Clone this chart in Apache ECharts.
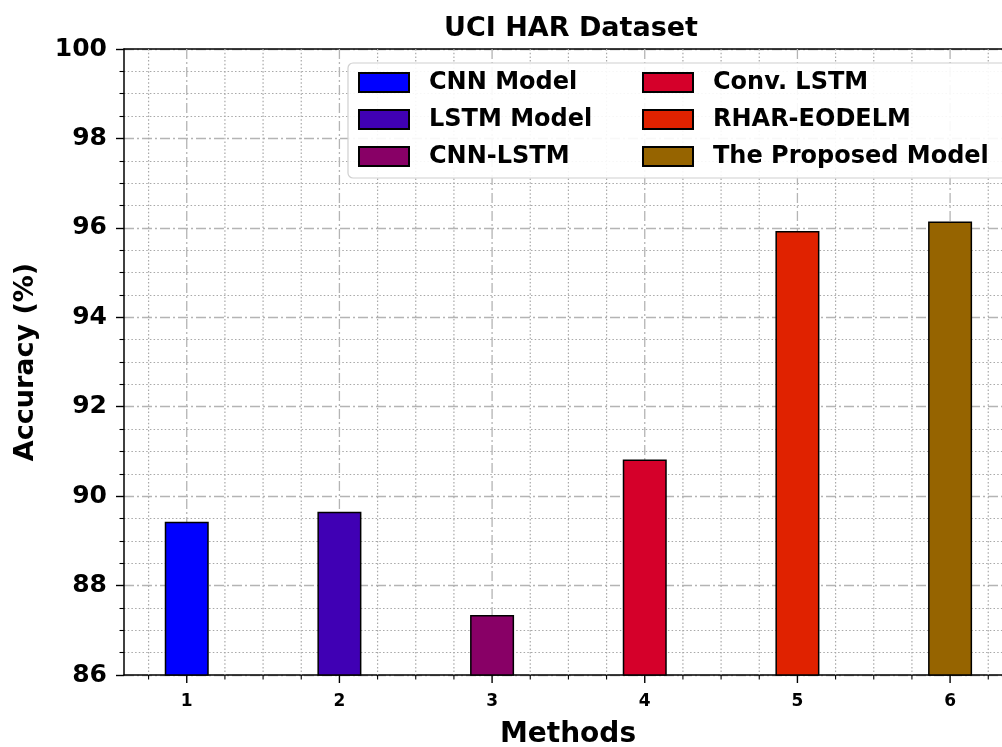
<!DOCTYPE html>
<html>
<head>
<meta charset="utf-8">
<script src="https://cdn.jsdelivr.net/npm/echarts@6/dist/echarts.min.js"></script>
<style>
html,body{margin:0;padding:0;background:#fff;}
#chart{width:1002px;height:747px;}
</style>
</head>
<body>
<div id="chart"></div>
<script>
// ---- data ----
const methods = [1, 2, 3, 4, 5, 6];
const modelNames = ['CNN Model', 'LSTM Model', 'CNN-LSTM', 'Conv. LSTM', 'RHAR-EODELM', 'The Proposed Model'];
const accuracy = [89.43, 89.65, 87.34, 90.82, 95.93, 96.14];
const xMajorTicks = [1, 2, 3, 4, 5, 6];
const xMinorTicks = [0.75, 1.25, 1.5, 1.75, 2.25, 2.5, 2.75, 3.25, 3.5, 3.75, 4.25, 4.5, 4.75, 5.25, 5.5, 5.75, 6.25];

// ---- styles ----
const barColors = ['#0000ff', '#4000b4', '#880066', '#d5002a', '#e02200', '#966400'];
const FONT = 'DejaVu Sans';
const gridMajorDash = [10, 3, 2, 3];
const gridMinorDash = [1.5, 2.2];

const chart = echarts.init(document.getElementById('chart'), null, {renderer: 'canvas'});

const barSeries = modelNames.map((name, i) => ({
  name: name,
  type: 'bar',
  z: 2,
  barWidth: 44,
  barGap: '-100%',
  data: [[methods[i], accuracy[i]]],
  itemStyle: {color: barColors[i], borderColor: '#000', borderWidth: 1.5},
  emphasis: {disabled: true}
}));

const gridData = xMajorTicks.map(v => [v, 1]).concat(xMinorTicks.map(v => [v, 0]));

const gridSeries = {
  type: 'custom',
  z: 1,
  silent: true,
  xAxisIndex: 0,
  yAxisIndex: 0,
  encode: {x: 0},
  data: gridData,
  renderItem: function (params, api) {
    const x = api.value(0);
    const major = api.value(1) === 1;
    const top = api.coord([x, 100]);
    const bot = api.coord([x, 86]);
    return {
      type: 'group',
      children: [
        {
          type: 'line',
          shape: {x1: top[0], y1: top[1], x2: bot[0], y2: bot[1]},
          style: {
            stroke: major ? '#b4b4b4' : '#a8a8a8',
            lineWidth: major ? 1.3 : 1.2,
            lineDash: major ? gridMajorDash : gridMinorDash
          }
        },
        {
          type: 'line',
          shape: {x1: bot[0], y1: bot[1], x2: bot[0], y2: bot[1] + (major ? 8 : 4.5)},
          style: {stroke: '#000', lineWidth: major ? 1.4 : 1.1}
        }
      ]
    };
  }
};

const legendCommon = {
  orient: 'vertical',
  padding: 0,
  itemWidth: 50,
  itemHeight: 19,
  itemGap: 13,
  icon: 'rect',
  z: 6,
  selectedMode: false,
  textStyle: {
    fontFamily: FONT, fontWeight: 'bold', fontSize: 24, color: '#000',
    lineHeight: 24, padding: [0, 0, 0, 15]
  }
};

const option = {
  backgroundColor: '#fff',
  animation: false,
  title: {
    text: 'UCI HAR Dataset',
    left: 566,
    top: 10,
    textAlign: 'center',
    textStyle: {fontFamily: FONT, fontWeight: 'bold', fontSize: 27, color: '#000'}
  },
  grid: {left: 124, right: 0, top: 49, bottom: 72, containLabel: false, outerBoundsMode: 'none'},
  graphic: [{
    type: 'rect',
    z: 3,
    shape: {x: 348, y: 63, width: 662, height: 115, r: 5},
    style: {fill: 'rgba(255,255,255,0.9)', stroke: '#d0d0d0', lineWidth: 1.2}
  }],
  legend: [
    Object.assign({}, legendCommon, {left: 358, top: 70.5, data: modelNames.slice(0, 3)}),
    Object.assign({}, legendCommon, {left: 642, top: 70.5, data: modelNames.slice(3, 6)})
  ],
  xAxis: [{
    type: 'value',
    min: 0.589,
    max: 6.34,
    name: 'Methods',
    nameLocation: 'middle',
    nameGap: 46,
    nameTextStyle: {fontFamily: FONT, fontWeight: 'bold', fontSize: 28, color: '#000', padding: [0, 0, 0, 10]},
    axisLine: {onZero: false, lineStyle: {color: '#000', width: 1.5}},
    axisTick: {show: false},
    splitLine: {show: false},
    axisLabel: {
      showMinLabel: false, showMaxLabel: false,
      margin: 18,
      fontFamily: FONT, fontWeight: 'bold', fontSize: 17, color: '#000'
    }
  }, {
    type: 'value',
    position: 'top',
    min: 0.589,
    max: 6.34,
    axisLine: {onZero: false, lineStyle: {color: '#000', width: 1.5}},
    axisTick: {show: false},
    axisLabel: {show: false},
    splitLine: {show: false}
  }],
  yAxis: {
    type: 'value',
    min: 86,
    max: 100,
    interval: 2,
    name: 'Accuracy (%)',
    nameLocation: 'middle',
    nameGap: 85,
    nameTextStyle: {fontFamily: FONT, fontWeight: 'bold', fontSize: 27, color: '#000'},
    axisLine: {show: true, lineStyle: {color: '#000', width: 1.5}},
    axisTick: {show: true, length: 8, lineStyle: {color: '#000', width: 1.4}},
    minorTick: {show: true, splitNumber: 4, length: 4.5, lineStyle: {color: '#000', width: 1.1}},
    splitLine: {show: true, lineStyle: {color: '#b4b4b4', width: 1.3, type: gridMajorDash}},
    minorSplitLine: {show: true, lineStyle: {color: '#a8a8a8', width: 1.2, type: gridMinorDash}},
    axisLabel: {margin: 17, fontFamily: FONT, fontWeight: 'bold', fontSize: 25, color: '#000'}
  },
  series: [gridSeries].concat(barSeries)
};

chart.setOption(option);
</script>
</body>
</html>
